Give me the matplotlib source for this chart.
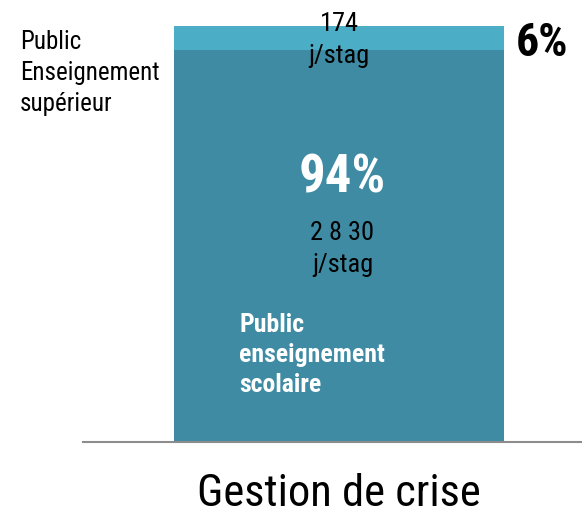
import matplotlib
matplotlib.use("Agg")
import matplotlib.pyplot as plt

categories = ["Gestion de crise"]
scolaire = [2830]
superieur = [174]
pct_scolaire = "94%"
pct_superieur = "6%"
lbl_scolaire = "2 8 30"

plt.rcParams['font.family'] = ['Roboto Condensed', 'DejaVu Sans']

dark = "#3E8BA3"
light = "#4BADC6"

fig = plt.figure(figsize=(5.82, 5.19), dpi=100)
ax = fig.add_axes([0.1426, 0.1484, 0.8574, 0.8015])

x = [0]
ax.bar(x, scolaire, width=1, color=dark)
ax.bar(x, superieur, width=1, bottom=scolaire, color=light)

top = scolaire[0] + superieur[0]
ax.set_xlim(-0.776, 0.736)
ax.set_ylim(0, top)

for s in ["top", "right", "left"]:
    ax.spines[s].set_visible(False)
ax.spines["bottom"].set_color("#8C8C8C")
ax.spines["bottom"].set_linewidth(1.5)
ax.set_yticks([])
ax.set_xticks(x)
ax.set_xticklabels(categories, fontsize=32)
ax.tick_params(axis="x", length=0, pad=22)

# top segment labels
ax.text(0, top * 0.966, f"{superieur[0]}\nj/stag", ha="center", va="center",
        fontsize=19, linespacing=1.4, clip_on=False)
ax.text(0.536, top * 0.959, pct_superieur, ha="left", va="center",
        fontsize=33, fontweight="bold", clip_on=False)

# bottom segment labels
ax.text(0.01, top * 0.634, pct_scolaire, ha="center", va="center",
        fontsize=38, fontweight="bold", color="white")
ax.text(0.01, top * 0.464, f"{lbl_scolaire}\nj/stag", ha="center", va="center",
        fontsize=19, linespacing=1.4)
ax.text(-0.303, top * 0.209, "Public\nenseignement\nscolaire", ha="left", va="center",
        fontsize=18.5, fontweight="bold", color="white", linespacing=1.3)

fig.text(20 / 582, 1 - 73 / 519, "Public\nEnseignement\nsupérieur", ha="left", va="center",
         fontsize=18, linespacing=1.37)

fig.savefig("out.png", dpi=100)
